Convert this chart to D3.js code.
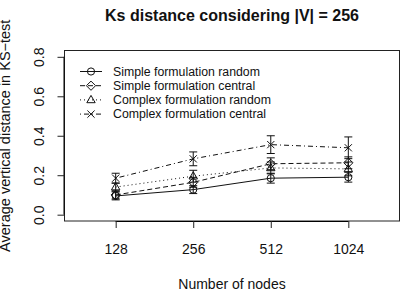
<!DOCTYPE html>
<html lang="en">
<head>
<meta charset="UTF-8">
<title>Ks distance</title>
<style>
  body { margin: 0; background: #fff; }
  svg { display: block; font-family: "Liberation Sans", Arial, Helvetica, sans-serif; }
</style>
</head>
<body>
<script src="https://cdnjs.cloudflare.com/ajax/libs/d3/7.8.5/d3.min.js"></script>
<script>
'use strict';
// données
const categories = ["128", "256", "512", "1024"];
const yTicks = [0.0, 0.2, 0.4, 0.6, 0.8];
const seriesNames = ["Simple formulation random", "Simple formulation central",
                     "Complex formulation random", "Complex formulation central"];
const simpleRandom   = [0.095, 0.127, 0.185, 0.190];
const simpleCentral  = [0.100, 0.164, 0.258, 0.263];
const complexRandom  = [0.140, 0.195, 0.237, 0.232];
const complexCentral = [0.185, 0.283, 0.355, 0.339];
// demi-largeur des barres d'erreur
const errSimpleRandom   = [0.020, 0.020, 0.025, 0.025];
const errSimpleCentral  = [0.020, 0.025, 0.030, 0.030];
const errComplexRandom  = [0.020, 0.030, 0.030, 0.035];
const errComplexCentral = [0.025, 0.035, 0.045, 0.055];

const series = [
  {name: seriesNames[0], values: simpleRandom,   err: errSimpleRandom,   dash: null,      shape: "circle"},
  {name: seriesNames[1], values: simpleCentral,  err: errSimpleCentral,  dash: "5,3",     shape: "diamond"},
  {name: seriesNames[2], values: complexRandom,  err: errComplexRandom,  dash: "1,3",     shape: "triangle"},
  {name: seriesNames[3], values: complexCentral, err: errComplexCentral, dash: "1,3,5,3", shape: "cross"}
];

const W = 404, H = 295;
const box = {left: 64.5, right: 399.5, top: 50.5, bottom: 221};

const svg = d3.select("body").append("svg")
  .attr("width", W)
  .attr("height", H);

// échelles (expansion de 4 % comme R)
const x = d3.scaleLinear()
  .domain([0.34, 4.66])
  .range([box.left, box.right]);
const y = d3.scaleLinear()
  .domain([-0.032, 0.832])
  .range([box.bottom, box.top]);

// symboles
function symbol(g, shape, cx, cy) {
  const s = g.append("g").attr("transform", `translate(${cx},${cy})`)
    .attr("fill", "none").attr("stroke", "#111").attr("stroke-width", 1);
  if (shape === "circle") {
    s.append("circle").attr("r", 3.6);
  } else if (shape === "diamond") {
    s.append("path").attr("d", "M0,-4.6L4.6,0L0,4.6L-4.6,0Z");
  } else if (shape === "triangle") {
    s.append("path").attr("d", "M0,-4.5L4.2,2.8L-4.2,2.8Z");
  } else {
    s.append("path").attr("d", "M-3.6,-3.6L3.6,3.6M-3.6,3.6L3.6,-3.6");
  }
}

const plot = svg.append("g");
const line = d3.line()
  .x((d, i) => x(i + 1))
  .y(d => y(d));

series.forEach(s => {
  plot.append("path")
    .datum(s.values)
    .attr("d", line)
    .attr("fill", "none")
    .attr("stroke", "#111")
    .attr("stroke-width", 1)
    .attr("stroke-dasharray", s.dash);

  s.values.forEach((v, i) => {
    const cx = x(i + 1);
    const lo = y(v - s.err[i]), hi = y(v + s.err[i]);
    plot.append("path")
      .attr("d", `M${cx},${lo}V${hi}M${cx - 4},${lo}H${cx + 4}M${cx - 4},${hi}H${cx + 4}`)
      .attr("fill", "none")
      .attr("stroke", "#111")
      .attr("stroke-width", 1);
    symbol(plot, s.shape, cx, y(v));
  });
});

// cadre
svg.append("rect")
  .attr("x", box.left).attr("y", box.top)
  .attr("width", box.right - box.left).attr("height", box.bottom - box.top)
  .attr("fill", "none").attr("stroke", "#222");

// axe des X
const xAxis = svg.append("g")
  .attr("transform", `translate(0,${box.bottom})`)
  .call(d3.axisBottom(x)
    .tickValues(categories.map((c, i) => i + 1))
    .tickFormat((d, i) => categories[i])
    .tickSize(7).tickPadding(16));
xAxis.select(".domain")
  .attr("d", `M${x(1)},0.5H${x(4)}`);
xAxis.selectAll("text").attr("font-size", 14).attr("font-family", null).attr("fill", "#111");
xAxis.selectAll("line").attr("stroke", "#222");

// axe des Y
const yAxis = svg.append("g")
  .attr("transform", `translate(${box.left},0)`)
  .call(d3.axisLeft(y).tickValues(yTicks).tickFormat(d3.format(".1f")).tickSize(7));
yAxis.select(".domain")
  .attr("d", `M-0.5,${y(0)}V${y(0.8)}`);
yAxis.selectAll("line").attr("stroke", "#222");
yAxis.selectAll("text")
  .attr("font-size", 14).attr("font-family", null).attr("fill", "#111")
  .attr("x", null).attr("dy", null)
  .attr("text-anchor", "middle")
  .attr("transform", "translate(-21,0) rotate(-90)");

// titres
svg.append("text")
  .attr("x", (box.left + box.right) / 2).attr("y", 21)
  .attr("text-anchor", "middle")
  .attr("font-size", 16).attr("font-weight", "bold")
  .attr("fill", "#111")
  .text("Ks distance considering |V| = 256");

svg.append("text")
  .attr("x", (box.left + box.right) / 2).attr("y", 289)
  .attr("text-anchor", "middle")
  .attr("font-size", 14).attr("fill", "#111")
  .text("Number of nodes");

svg.append("text")
  .attr("transform", `translate(10,${(box.top + box.bottom) / 2}) rotate(-90)`)
  .attr("text-anchor", "middle")
  .attr("font-size", 14.5).attr("fill", "#111")
  .text("Average vertical distance in KS\u2212test");

// légende
const legend = svg.append("g");
series.forEach((s, i) => {
  const ly = 71.5 + i * 14.2;
  legend.append("line")
    .attr("x1", 80).attr("x2", 102)
    .attr("y1", ly).attr("y2", ly)
    .attr("stroke", "#111")
    .attr("stroke-dasharray", s.dash);
  symbol(legend, s.shape, 91, ly);
  legend.append("text")
    .attr("x", 113).attr("y", ly)
    .attr("dy", "0.35em")
    .attr("font-size", 12.3).attr("fill", "#111")
    .text(s.name);
});
</script>
</body>
</html>
